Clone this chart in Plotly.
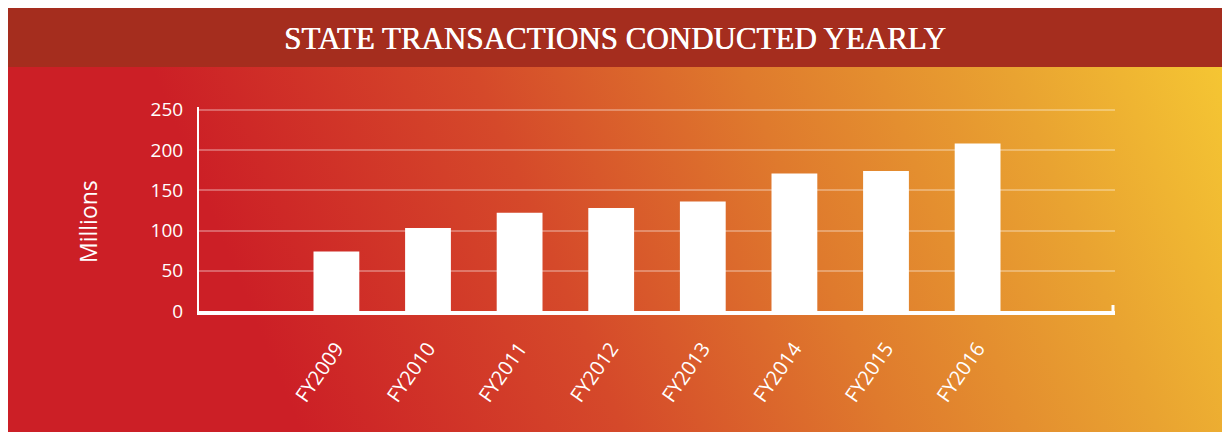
import base64
import plotly.graph_objects as go

categories = ["FY2009", "FY2010", "FY2011", "FY2012", "FY2013", "FY2014", "FY2015", "FY2016"]
values = [74, 103, 122, 128, 136, 171, 174, 208]
y_ticks = [0, 50, 100, 150, 200, 250]

# the page adds an 8px body margin, so the figure is a little smaller than the window
W, H = 1217, 424
L, R, T, B = 191, 110, 99, 121
pw, ph = W - L - R, H - T - B


def px_x(x):
    # figure pixel -> paper x
    return (x - L) / pw


def px_y(y):
    # figure pixel (from top) -> paper y
    return (H - B - y) / ph


# diagonal red -> yellow background as an svg data uri
svg = f"""<svg xmlns="http://www.w3.org/2000/svg" width="1217" height="365" viewBox="0 0 1217 365" preserveAspectRatio="none">
<defs><linearGradient id="g" gradientUnits="userSpaceOnUse" x1="217" y1="180" x2="1135" y2="-197">
<stop offset="0" stop-color="#CC1F26"/>
<stop offset="0.3" stop-color="#D5492A"/>
<stop offset="0.55" stop-color="#DF7A2D"/>
<stop offset="0.8" stop-color="#E9A331"/>
<stop offset="1" stop-color="#F5C633"/>
</linearGradient></defs>
<rect x="0" y="0" width="1217" height="365" fill="url(#g)"/>
</svg>"""
bg_src = "data:image/svg+xml;base64," + base64.b64encode(svg.encode()).decode()

fig = go.Figure()
fig.add_trace(go.Bar(
    x=categories,
    y=values,
    width=0.5,
    marker_color="white",
    marker_line_width=0,
    hovertemplate="%{x}: %{y}<extra></extra>",
))

fig.update_layout(
    width=W,
    height=H,
    margin=dict(l=L, r=R, t=T, b=B, pad=0),
    paper_bgcolor="white",
    plot_bgcolor="rgba(0,0,0,0)",
    showlegend=False,
    font=dict(family="Open Sans", color="white", size=18),
    images=[dict(
        source=bg_src,
        xref="paper", yref="paper",
        x=px_x(0), y=px_y(59),
        sizex=W / pw, sizey=365 / ph,
        xanchor="left", yanchor="top",
        sizing="stretch",
        layer="below",
    )],
    shapes=[
        dict(type="rect", xref="paper", yref="paper",
             x0=px_x(0), x1=px_x(W), y0=px_y(59), y1=px_y(0),
             fillcolor="#A52D1E", line_width=0, layer="below"),
        dict(type="line", xref="paper", yref="paper",
             x0=px_x(1105), x1=px_x(1105), y0=px_y(306), y1=px_y(297),
             line=dict(color="white", width=3)),
    ],
    annotations=[
        dict(text="STATE TRANSACTIONS CONDUCTED YEARLY",
             xref="paper", yref="paper", x=px_x(607), y=px_y(30),
             xanchor="center", yanchor="middle", showarrow=False,
             font=dict(family="Liberation Serif", size=31, color="white",
                       shadow="0.6px 0px 0px white")),
        dict(text="Millions",
             xref="paper", yref="paper", x=px_x(80), y=px_y(214),
             xanchor="center", yanchor="middle", showarrow=False, textangle=-90,
             font=dict(family="Open Sans", size=23, color="white")),
    ],
)

fig.update_xaxes(
    type="category",
    range=[-1.5, 8.5],
    showline=True,
    linecolor="white",
    linewidth=4,
    showgrid=False,
    ticks="",
    tickangle=-55,
    ticklabelstandoff=14,
    tickfont=dict(size=20, color="white"),
)
fig.update_yaxes(
    range=[0, 253.5],
    tickvals=y_ticks,
    showline=True,
    linecolor="white",
    linewidth=2,
    showgrid=True,
    gridcolor="rgba(255,255,255,0.3)",
    gridwidth=2,
    zeroline=False,
    ticks="",
    ticklabelstandoff=10,
    tickfont=dict(size=19, color="white"),
)

fig.write_html("out.html")
